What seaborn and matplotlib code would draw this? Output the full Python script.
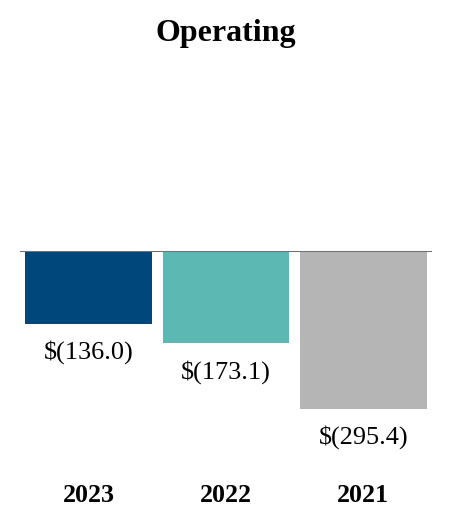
import matplotlib
matplotlib.use("Agg")
import matplotlib.pyplot as plt
import seaborn as sns

# data
years = ["2023", "2022", "2021"]
values = [-136.0, -173.1, -295.4]
labels = ["$(136.0)", "$(173.1)", "$(295.4)"]
colors = ["#00477B", "#5BB8B2", "#B5B5B5"]

sns.set_style("white")
plt.rcParams["font.family"] = ["Liberation Serif", "DejaVu Serif"]
plt.rcParams["text.color"] = "black"

fig = plt.figure(figsize=(4.52, 5.32), dpi=100)
# axes top sits on the zero line, spans the full chart width
ax = fig.add_axes([20 / 452, 0, 412 / 452, 1 - 250.7 / 532])

sns.barplot(x=years, y=values, hue=years, palette=colors, order=years,
            hue_order=years, legend=False, width=0.92, saturation=1,
            linewidth=0, ax=ax)

ax.set_xlim(-0.5, 2.5)
ax.set_ylim(-525, 0)
ax.axhline(0, color="#707070", lw=1.5, zorder=5)

for i, (v, lab) in enumerate(zip(values, labels)):
    ax.annotate(lab, (i, v), xytext=(0, -20.5), textcoords="offset points",
                ha="center", va="center", fontsize=18.9, color="black")
    # year label under each bar
    ax.text(i, 1 - (495 - 250.7) / 281.3, years[i], transform=ax.get_xaxis_transform(),
            ha="center", va="center", fontsize=18.7, fontweight="bold", color="black")

ax.set_xticks([])
ax.set_yticks([])
ax.set_xlabel("")
ax.set_ylabel("")
sns.despine(ax=ax, left=True, bottom=True, top=True, right=True)

fig.text(0.5, 1 - 33 / 532, "Operating", ha="center", va="center",
         fontsize=23, fontweight="bold", color="black")

fig.savefig("out.png", dpi=100, facecolor="white")
